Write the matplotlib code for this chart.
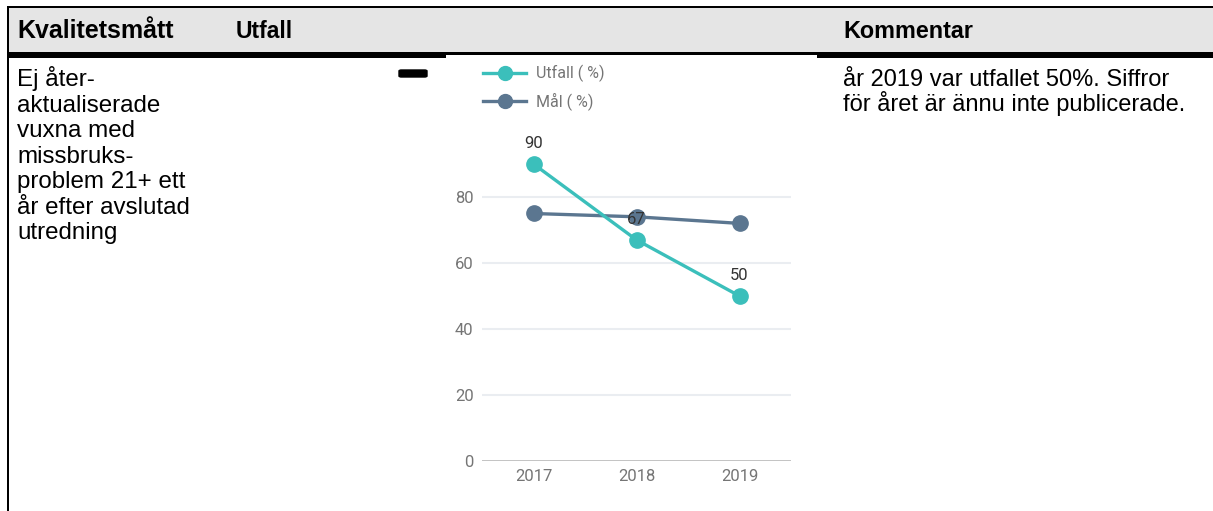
import matplotlib.pyplot as plt
from matplotlib.patches import Rectangle, FancyBboxPatch

W, H = 1213, 511

years = [2017, 2018, 2019]
utfall = [90, 67, 50]
mal = [75, 74, 72]
yticks = [0, 20, 40, 60, 80]

headers = ["Kvalitetsmått", "Utfall", "Kommentar"]
header_x = [17, 236, 843]
header_size = [18, 16.5, 16.8]
measure_lines = ["Ej åter-", "aktualiserade", "vuxna med", "missbruks-",
                 "problem 21+ ett", "år efter avslutad", "utredning"]
comment_lines = ["år 2019 var utfallet 50%. Siffror",
                 "för året är ännu inte publicerade."]

TEAL = "#3bbfbb"
SLATE = "#5b7690"
GREY_TXT = "#757575"


def fx(x):
    return x / W


def fy(y):
    return 1 - y / H


def block(x0, y0, x1, y1, color):
    # rectangle given in pixel coords (y down)
    fig.add_artist(Rectangle((fx(x0), fy(y1)), fx(x1) - fx(x0), fy(y0) - fy(y1),
                             transform=fig.transFigure, facecolor=color,
                             edgecolor="none"))


fig = plt.figure(figsize=(W / 100, H / 100), dpi=100)
fig.patch.set_facecolor("white")

# table frame
block(9, 8, W, 52, "#e5e5e5")
block(7, 6, W, 8, "black")
block(7, 6, 9, H, "black")
# thick line under header, thinner where the chart image sits
block(7, 52, 446, 58, "black")
block(446, 52, 817, 55.5, "black")
block(817, 52, W, 58, "black")

for txt, x, s in zip(headers, header_x, header_size):
    fig.text(fx(x), fy(37.5), txt, family="Liberation Sans", weight="bold",
             fontsize=s, color="black", va="baseline", ha="left")

for i, line in enumerate(measure_lines):
    fig.text(fx(17), fy(86 + i * 25.5), line, family="Liberation Sans",
             fontsize=17.4, color="black", va="baseline", ha="left")

for i, line in enumerate(comment_lines):
    fig.text(fx(843), fy(86 + i * 25.5), line, family="Liberation Sans",
             fontsize=17, color="black", va="baseline", ha="left")

# little black dash
fig.add_artist(FancyBboxPatch((fx(399), fy(77)), fx(427) - fx(399), fy(70) - fy(77),
                              boxstyle="round,pad=0,rounding_size=0.002",
                              transform=fig.transFigure, facecolor="black",
                              edgecolor="black"))

# chart
ytop = 98
y0_px = 461
px_per_unit = 3.3
ax = fig.add_axes([fx(482), fy(y0_px), fx(791) - fx(482),
                   (ytop * px_per_unit) / H])
ax.set_xlim(2016.5, 2019.5)
ax.set_ylim(0, ytop)
ax.set_facecolor("none")

for t in yticks[1:]:
    ax.axhline(t, color="#eaedf1", lw=1.5, zorder=0)
ax.axhline(0, color="#bdbdbd", lw=2, zorder=1)

ax.plot(years, utfall, color=TEAL, lw=2.4, marker="o", ms=11,
        label="Utfall ( %)", zorder=3)
ax.plot(years, mal, color=SLATE, lw=2.4, marker="o", ms=11,
        label="Mål ( %)", zorder=2)

for x, v in zip(years, utfall):
    ax.annotate(str(v), (x, v), xytext=(0, 15), textcoords="offset points",
                ha="center", va="center", family="Roboto", fontsize=12,
                color="#333333", zorder=4)

ax.set_xticks(years)
ax.set_xticklabels([str(y) for y in years])
ax.set_yticks(yticks)
for spine in ax.spines.values():
    spine.set_visible(False)
ax.tick_params(length=0, colors=GREY_TXT, labelsize=12, pad=6)
ax.tick_params(axis="y", pad=6)
for lbl in ax.get_xticklabels() + ax.get_yticklabels():
    lbl.set_family("Roboto")
    lbl.set_color(GREY_TXT)

leg = ax.legend(loc="upper left", bbox_to_anchor=(fx(483), fy(65)),
                bbox_transform=fig.transFigure, frameon=False,
                handlelength=2.7, handletextpad=0.6, labelspacing=0.62,
                borderpad=0, borderaxespad=0,
                prop={"family": "Roboto", "size": 11.5})
for t in leg.get_texts():
    t.set_color(GREY_TXT)
for h in leg.legend_handles:
    h.set_markersize(10)

fig.savefig("out.png", dpi=100, facecolor="white")
